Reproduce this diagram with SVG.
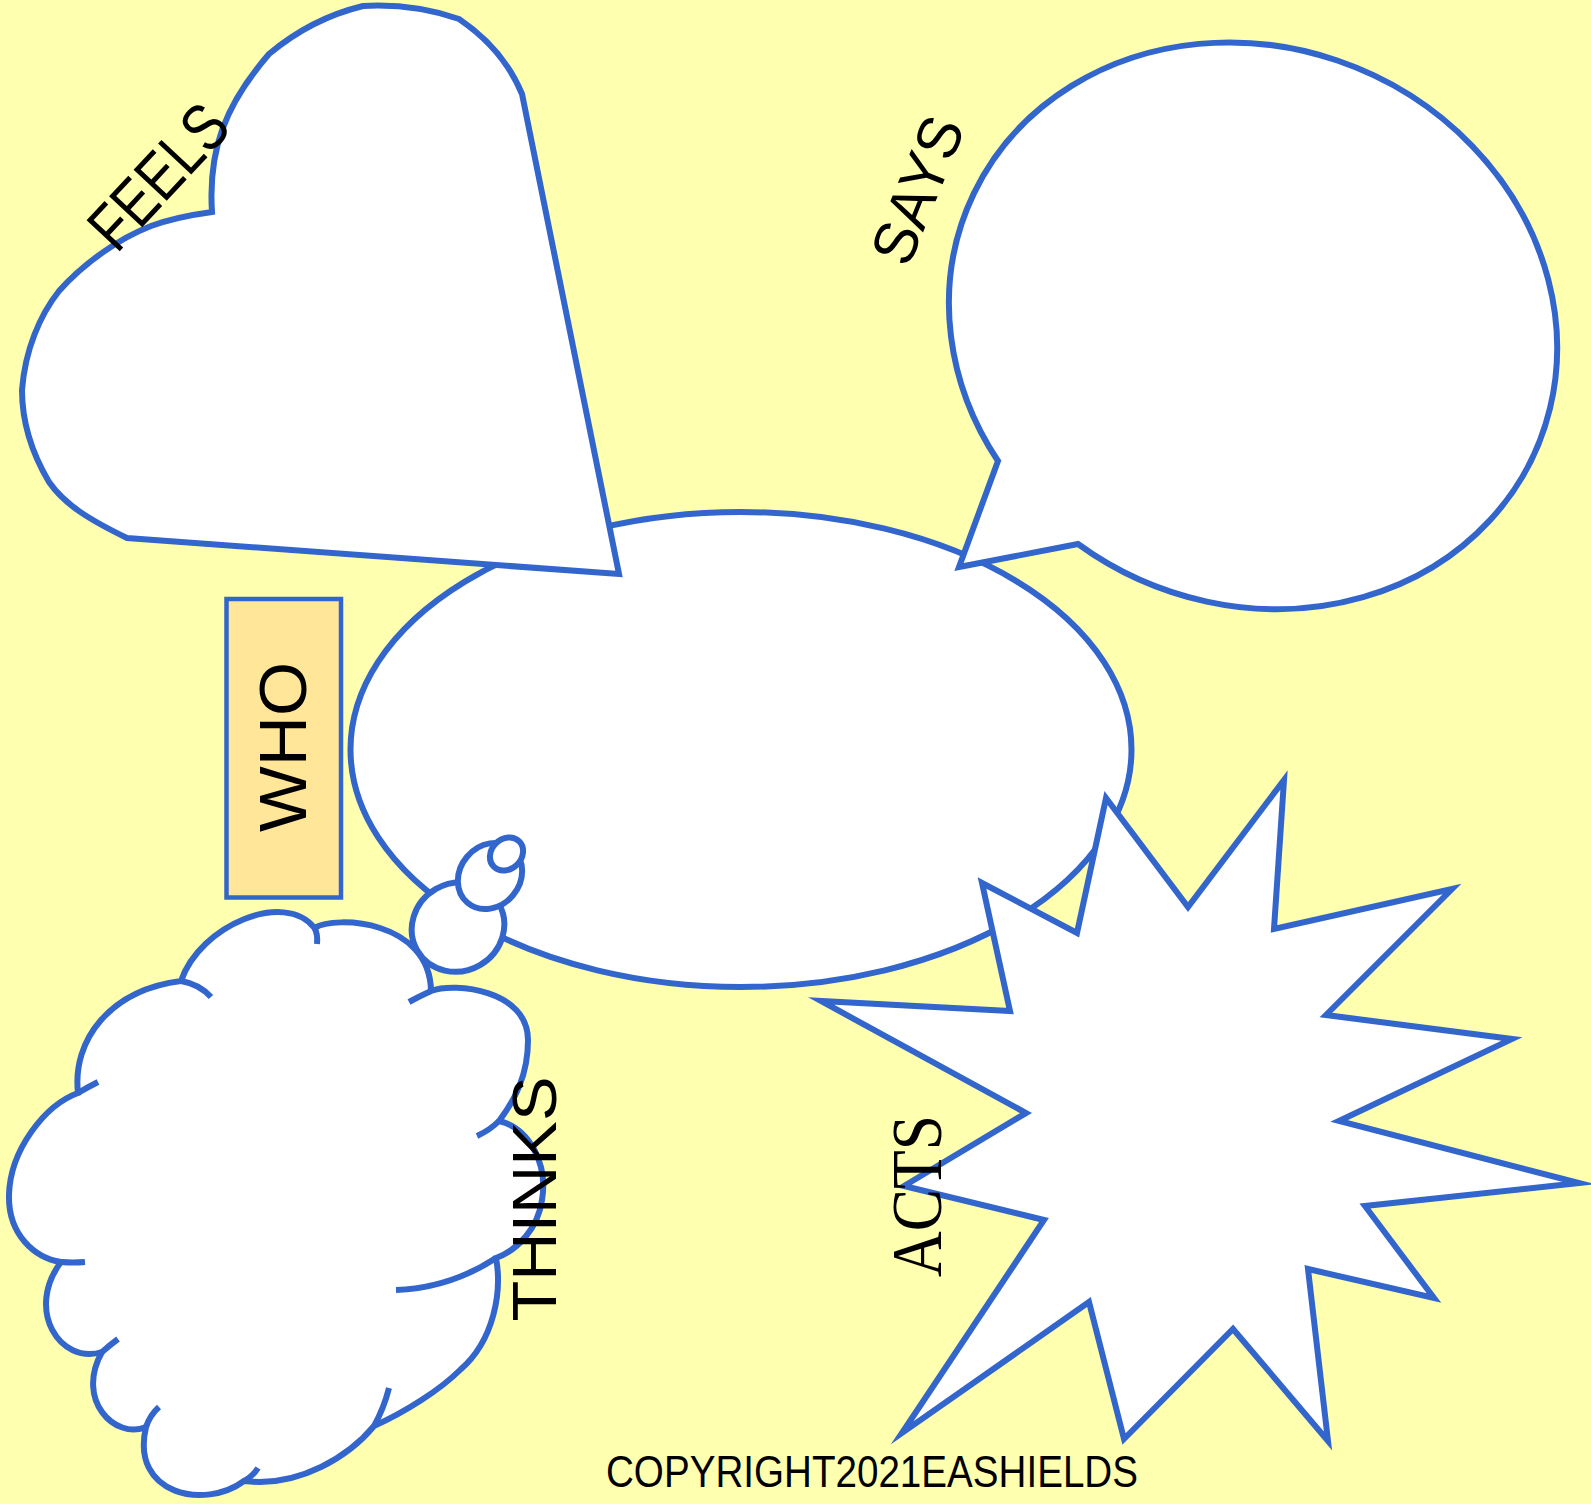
<svg xmlns="http://www.w3.org/2000/svg" width="1591" height="1504" viewBox="0 0 1591 1504">
<style>
.shape{fill:#ffffff;stroke:#3366CC;stroke-width:6;stroke-linejoin:miter;stroke-miterlimit:20}
.stub{fill:none;stroke:#3366CC;stroke-width:6;stroke-linecap:butt}
.lbl{font-family:"Liberation Sans","DejaVu Sans",sans-serif;fill:#000000;text-anchor:middle}
</style>
<rect x="0" y="0" width="1591" height="1504" fill="#FFFFB0"/>

<g id="center">
  <ellipse class="shape" cx="741" cy="749.5" rx="390.5" ry="237.5"/>
</g>

<g id="feels">
  <path class="shape" d="M 212,212 C 208,150 225,105 269,54 C 300,28 330,14 363,6 C 400,4 430,9 459,19 C 490,40 510,65 522,94 L 619,574 L 127,538 C 90,520 65,505 49,482 C 30,450 22,420 22,390 C 25,350 40,315 59,291 C 85,262 120,238 151,226 C 170,219 190,215 212,212 Z"/>
  <text class="lbl" transform="translate(175,192) rotate(-47)" font-size="66" textLength="171" lengthAdjust="spacingAndGlyphs">FEELS</text>
</g>

<g id="says">
  <path class="shape" d="M 1078,544 A 309 278 24 1 0 998,461 L 959,567 Z"/>
  <text class="lbl" transform="translate(937,198) rotate(-68)" font-size="61" textLength="153" lengthAdjust="spacingAndGlyphs">SAYS</text>
</g>

<g id="acts">
  <path class="shape" d="M 1106,798 L 1188,907 L 1284,780 L 1274,929 L 1452,889 L 1326,1015 L 1512,1039 L 1339,1121 L 1579,1183 L 1365,1206 L 1434,1298 L 1308,1269 L 1328,1441 L 1233,1329 L 1124,1439 L 1089,1302 L 902,1433 L 1044,1220 L 904,1186 L 1026,1113 L 821,1001 L 1010,1011 L 982,883 L 1077,933 Z"/>
  <text transform="translate(941,1196) rotate(-90)" font-family="'Liberation Serif','DejaVu Serif',serif" font-size="72" text-anchor="middle" fill="#000000" textLength="162" lengthAdjust="spacingAndGlyphs">ACTS</text>
</g>

<g id="thinks">
  <path class="shape" d="M 181,981 C 200,925 285,890 314.5,928 C 335,915 430,920 431,991 C 455,982 528,990 528,1040 C 528,1075 515,1100 499,1121 C 530,1128 548,1165 542,1200 C 538,1228 518,1250 496,1258 C 502,1290 495,1340 460,1370 C 440,1390 405,1412 374,1426 C 350,1455 300,1488 244,1481 C 205,1510 130,1495 146,1427 C 115,1440 75,1400 102,1352 C 60,1365 25,1310 61,1262 C 35,1258 8,1235 9,1195 C 10,1150 45,1105 78,1093 C 72,1040 110,990 181,981 Z"/>
  <path class="stub" d="M 181,981 Q 199,984 211,997"/>
  <path class="stub" d="M 314.5,928 Q 318,934 317,944"/>
  <path class="stub" d="M 409,1002 Q 420,996 431,991"/>
  <path class="stub" d="M 499,1121 Q 490,1130 477,1136"/>
  <path class="stub" d="M 496,1258 Q 450,1288 396,1290"/>
  <path class="stub" d="M 389,1388 Q 384,1408 374,1426"/>
  <path class="stub" d="M 244,1481 Q 253,1476 258,1468"/>
  <path class="stub" d="M 159,1407 Q 150,1415 146,1427"/>
  <path class="stub" d="M 102,1352 Q 110,1345 118,1339"/>
  <path class="stub" d="M 61,1262 Q 73,1263 85,1262"/>
  <path class="stub" d="M 78,1093 Q 88,1087 98,1082"/>
  <text class="lbl" transform="translate(556,1199) rotate(-90)" font-size="63" textLength="245" lengthAdjust="spacingAndGlyphs">THINKS</text>
</g>

<g id="connectors">
  <ellipse class="shape" cx="458" cy="927" rx="47" ry="44" transform="rotate(-30 458 927)"/>
  <ellipse class="shape" cx="490" cy="876" rx="35" ry="30" transform="rotate(-50 490 876)"/>
  <ellipse class="shape" cx="506.5" cy="854" rx="18" ry="15" transform="rotate(-45 506.5 854)"/>
</g>

<g id="who">
  <rect x="226.5" y="599" width="114.5" height="298.5" fill="#FFE699" stroke="#3366CC" stroke-width="4.5"/>
  <text class="lbl" transform="translate(306,747) rotate(-90)" font-size="66" textLength="170" lengthAdjust="spacingAndGlyphs">WHO</text>
</g>

<g id="copyright">
  <text class="lbl" x="872" y="1487" font-size="45" textLength="532" lengthAdjust="spacingAndGlyphs">COPYRIGHT2021EASHIELDS</text>
</g>
</svg>
